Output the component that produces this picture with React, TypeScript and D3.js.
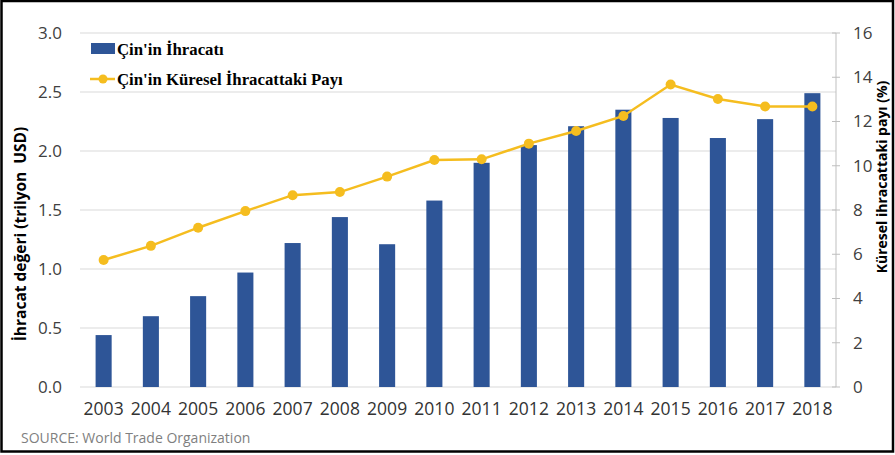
import React from "react";
import * as d3 from "d3";

const years = ["2003","2004","2005","2006","2007","2008","2009","2010","2011","2012","2013","2014","2015","2016","2017","2018"];
const exportsTrillion = [0.44,0.60,0.77,0.97,1.22,1.44,1.21,1.58,1.90,2.05,2.21,2.35,2.28,2.11,2.27,2.49];
const globalShare = [5.74,6.38,7.2,7.95,8.67,8.81,9.51,10.26,10.29,11.0,11.57,12.25,13.67,13.02,12.68,12.68];
const leftTicks = [0,0.5,1.0,1.5,2.0,2.5,3.0];
const rightTicks = [0,2,4,6,8,10,12,14,16];

const W = 895, H = 455;
const X0 = 80, X1 = 836, Y0 = 387, Y1 = 33;
const BAR = "#2e5597";
const LINE = "#f5bd1f";
const FONT = "'Open Sans', sans-serif";
const SERIF = "'Liberation Serif', 'Times New Roman', serif";

export default function App() {
  const x = d3.scaleBand<string>().domain(years).range([X0, X1]).paddingInner(0.66).paddingOuter(0.33);
  const yL = d3.scaleLinear().domain([0, 3]).range([Y0, Y1]);
  const yR = d3.scaleLinear().domain([0, 16]).range([Y0, Y1]);
  const cx = (y: string) => (x(y) as number) + x.bandwidth() / 2;
  const line = d3.line<number>().x((_, i) => cx(years[i])).y((d) => yR(d));

  return (
    <svg width={W} height={H} style={{ position: "absolute", left: 0, top: 0, background: "#fff" }}>
      <rect x={0} y={0} width={W} height={H} fill="#fff" />
      {leftTicks.map((t) => (
        <line key={"g" + t} x1={X0} x2={X1} y1={yL(t)} y2={yL(t)} stroke="#d9d9d9" strokeWidth={1} />
      ))}
      {leftTicks.map((t) => (
        <text key={"l" + t} x={62} y={yL(t)} dy="0.35em" textAnchor="end" fontFamily={FONT} fontSize={17} fill="#404040">
          {t.toFixed(1)}
        </text>
      ))}
      <line x1={X1} x2={X1} y1={Y1} y2={Y0} stroke="#bfbfbf" strokeWidth={1} />
      {rightTicks.map((t) => (
        <g key={"r" + t}>
          <line x1={X1 - 4} x2={X1 + 4} y1={yR(t)} y2={yR(t)} stroke="#bfbfbf" strokeWidth={1} />
          <text x={853} y={yR(t)} dy="0.35em" fontFamily={FONT} fontSize={17} fill="#404040">{t}</text>
        </g>
      ))}
      {years.map((yr, i) => (
        <rect key={"b" + yr} x={x(yr)} y={yL(exportsTrillion[i])} width={x.bandwidth()} height={Y0 - yL(exportsTrillion[i])} fill={BAR} />
      ))}
      <path d={line(globalShare) || ""} fill="none" stroke={LINE} strokeWidth={2.5} />
      {years.map((yr, i) => (
        <circle key={"c" + yr} cx={cx(yr)} cy={yR(globalShare[i])} r={5} fill={LINE} />
      ))}
      {years.map((yr) => (
        <text key={"x" + yr} x={cx(yr)} y={415} textAnchor="middle" fontFamily={FONT} fontSize={17.5} fill="#333">{yr}</text>
      ))}
      <text transform="translate(26,234) rotate(-90)" textAnchor="middle" fontFamily={FONT} fontWeight="bold" fontSize={15.5} fill="#000" style={{ whiteSpace: "pre" }}>
        {"İhracat değeri (trilyon\u00a0 USD)"}
      </text>
      <text transform="translate(882,177) rotate(-90)" dy="0.35em" textAnchor="middle" fontFamily={FONT} fontWeight="bold" fontSize={14} fill="#000">
        Küresel ihracattaki payı (%)
      </text>
      <rect x={91} y={43} width={24} height={11} fill={BAR} />
      <text x={117} y={54.5} fontFamily={SERIF} fontWeight="bold" fontSize={16.8} fill="#000">Çin'in İhracatı</text>
      <line x1={90} x2={115} y1={79} y2={79} stroke={LINE} strokeWidth={2.5} />
      <circle cx={103} cy={79} r={4.5} fill={LINE} />
      <text x={117} y={84.5} fontFamily={SERIF} fontWeight="bold" fontSize={16.8} fill="#000">Çin'in Küresel İhracattaki Payı</text>
      <text x={21} y={443} fontFamily={FONT} fontSize={14} fill="#7f7f7f">SOURCE: World Trade Organization</text>
      <rect x={1.5} y={1} width={891.5} height={450.5} fill="none" stroke="#000" strokeWidth={2.5} />
    </svg>
  );
}
